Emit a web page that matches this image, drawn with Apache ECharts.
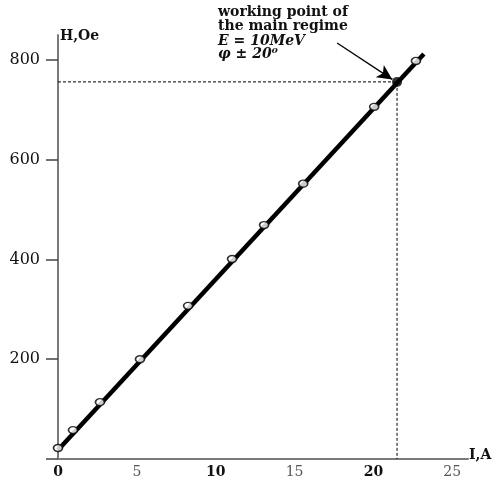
<!DOCTYPE html>
<html><head><meta charset="utf-8">
<script src="https://cdn.jsdelivr.net/npm/echarts@6/dist/echarts.min.js"></script>
<style>html,body{margin:0;padding:0;background:#fff}#c{width:502px;height:482px}</style>
</head><body><div id="c"></div>
<script>
var xTicks = [0, 5, 10, 15, 20, 25];
var yTicks = [200, 400, 600, 800];
var currentA = [0, 0.95, 2.66, 5.2, 8.25, 11.04, 13.07, 15.55, 20.05, 22.7];
var fieldOe = [22, 58, 114, 200, 307, 401, 469, 552, 706, 798];
var fitLine = [[0, 18], [23.2, 812]];
var workPoint = [21.5, 756];
var arrowFrom = [17.7, 834];
var noteLines = ['working point of', 'the main regime', 'E = 10MeV', 'φ ± 20⁰'];

var pts = currentA.map(function (x, i) { return [x, fieldOe[i]]; });
var serif = '"DejaVu Serif", "Liberation Serif", serif';
var chart = echarts.init(document.getElementById('c'));
chart.setOption({
  animation: false,
  grid: { left: 58, right: 34, top: 35, bottom: 23 },
  xAxis: {
    type: 'value', min: 0, max: 26, interval: 5,
    axisLine: { show: true, lineStyle: { color: '#7a7a7a', width: 2 } },
    axisTick: { show: false },
    splitLine: { show: false },
    axisLabel: {
      margin: 6,
      showMaxLabel: false,
      formatter: function (v) { return (v % 10 === 0) ? '{b|' + v + '}' : '{a|' + v + '}'; },
      rich: {
        a: { fontFamily: serif, fontSize: 14, color: '#555' },
        b: { fontFamily: serif, fontSize: 14, fontWeight: 'bold', color: '#111' }
      }
    }
  },
  yAxis: {
    type: 'value', min: 0, max: 850, interval: 200,
    axisLine: { show: true, lineStyle: { color: '#7a7a7a', width: 2 } },
    axisTick: { show: true, length: 12, lineStyle: { color: '#444', width: 1.5 } },
    splitLine: { show: false },
    axisLabel: {
      margin: 18, fontFamily: serif, fontSize: 16, color: '#111',
      showMaxLabel: false,
      formatter: function (v) { return v === 0 ? '' : v; }
    }
  },
  graphic: [
    { type: 'text', left: 60, top: 29, style: { text: 'H,Oe', font: 'bold 14px ' + serif, fill: '#111' } },
    { type: 'text', left: 469, top: 448, style: { text: 'I,A', font: 'bold 14px ' + serif, fill: '#111' } },
    { type: 'text', left: 218, top: 5, style: { text: noteLines[0], font: 'bold 14px ' + serif, fill: '#111' } },
    { type: 'text', left: 218, top: 19, style: { text: noteLines[1], font: 'bold 14px ' + serif, fill: '#111' } },
    { type: 'text', left: 218, top: 34, style: { text: noteLines[2], font: 'italic bold 14px ' + serif, fill: '#111' } },
    { type: 'text', left: 218, top: 47, style: { text: noteLines[3], font: 'italic bold 14px ' + serif, fill: '#111' } }
  ],
  series: [
    {
      type: 'line', data: [[0, workPoint[1]], workPoint, [workPoint[0], 0]],
      symbol: 'none', lineStyle: { color: '#000', width: 1, type: [3, 2] }, z: 1
    },
    {
      type: 'line', data: fitLine, symbol: 'none',
      lineStyle: { color: '#000', width: 4.5 }, z: 2,
      markLine: {
        silent: true, symbol: ['none', 'arrow'], symbolSize: [11, 15],
        label: { show: false },
        lineStyle: { color: '#000', width: 1.3, type: 'solid' },
        data: [[{ coord: arrowFrom }, { coord: [21.2, 761] }]]
      }
    },
    {
      type: 'scatter', data: pts, symbol: 'circle', symbolSize: [9, 7],
      itemStyle: { color: '#fff', borderColor: '#000', borderWidth: 1.5 }, z: 3
    },
    {
      type: 'scatter', data: [workPoint], symbol: 'circle', symbolSize: 10,
      itemStyle: { color: '#000' }, z: 4
    }
  ]
});
</script></body></html>
